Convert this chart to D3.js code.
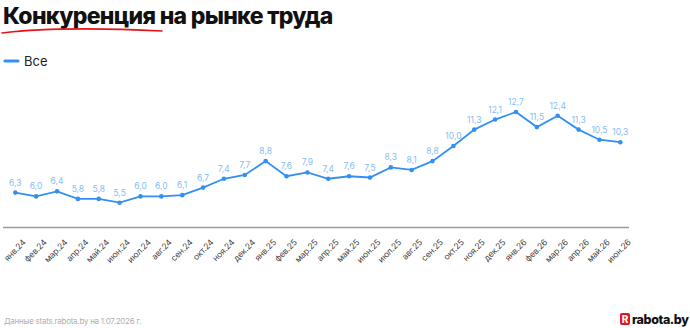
<!DOCTYPE html>
<html><head><meta charset="utf-8">
<script src="https://cdn.jsdelivr.net/npm/d3@7"></script>
<style>body{margin:0;background:#fff;}svg{display:block;font-family:Inter,"Noto Sans",sans-serif;}</style>
</head><body>
<svg id="c" width="690" height="328"></svg>
<script>
const categories = ["янв.24","фев.24","мар.24","апр.24","май.24","июн.24","июл.24","авг.24","сен.24","окт.24","ноя.24","дек.24","янв.25","фев.25","мар.25","апр.25","май.25","июн.25","июл.25","авг.25","сен.25","окт.25","ноя.25","дек.25","янв.26","фев.26","мар.26","апр.26","май.26","июн.26"];
const values = [6.3,6.0,6.4,5.8,5.8,5.5,6.0,6.0,6.1,6.7,7.4,7.7,8.8,7.6,7.9,7.4,7.6,7.5,8.3,8.1,8.8,10.0,11.3,12.1,12.7,11.5,12.4,11.3,10.5,10.3];
const seriesName = "Все";
const title = "Конкуренция на рынке труда";
const source = "Данные stats.rabota.by на 1.07.2026 г.";

const svg = d3.select("#c");
const x = d3.scalePoint().domain(categories).range([15.3, 620.3]);
const y = d3.scaleLinear().domain([3.5, 14]).range([227.9, 95.6]);
const fmt = v => d3.format(".1f")(v).replace(".", ",");

// title
svg.append("text").attr("x", 3).attr("y", 24).attr("font-size", 23).attr("font-weight", 800)
  .attr("letter-spacing", -0.7).attr("fill", "#111").text(title);
svg.append("path").attr("d", "M2,33 Q60,26 162,31").attr("fill", "none").attr("stroke", "#e8121a").attr("stroke-width", 1.6).attr("stroke-linecap", "round");

// legend
svg.append("line").attr("x1", 5).attr("x2", 18).attr("y1", 61).attr("y2", 61).attr("stroke", "#3390f2").attr("stroke-width", 3.2).attr("stroke-linecap", "round");
svg.append("text").attr("x", 24).attr("y", 65.5).attr("font-size", 13).attr("fill", "#222").text(seriesName);

// axis
const xAxis = d3.axisBottom(x).tickSize(0).tickFormat("");
const ax = svg.append("g").attr("transform", "translate(0,227.5)").call(xAxis);
ax.select(".domain").attr("d", "M3,0H629").attr("stroke", "#9a9a9a").attr("stroke-width", 1.5);
svg.append("g").selectAll("text").data(categories).join("text")
  .attr("transform", d => `translate(${x(d) + 11},243) rotate(-45)`)
  .attr("text-anchor", "end").attr("font-size", 8.5).attr("letter-spacing", -0.2).attr("fill", "#444").text(d => d);

// line
const data = categories.map((c, i) => ({c, v: values[i]}));
svg.append("path").datum(data).attr("fill", "none").attr("stroke", "#3390f2").attr("stroke-width", 1.8)
  .attr("d", d3.line().x(d => x(d.c)).y(d => y(d.v)));
svg.append("g").selectAll("circle").data(data).join("circle")
  .attr("cx", d => x(d.c)).attr("cy", d => y(d.v)).attr("r", 2.3).attr("fill", "#3390f2");
svg.append("g").selectAll("text").data(data).join("text")
  .attr("x", d => x(d.c)).attr("y", d => y(d.v) - 7).attr("text-anchor", "middle")
  .attr("font-size", 8.5).attr("fill", "#88bdf3").text(d => fmt(d.v));

// footer
svg.append("text").attr("x", 4).attr("y", 324).attr("font-size", 8).attr("letter-spacing", -0.25).attr("fill", "#b0b0b0").text(source);
svg.append("rect").attr("x", 620).attr("y", 313).attr("width", 10).attr("height", 12).attr("rx", 2).attr("fill", "#e8121a");
svg.append("text").attr("x", 625).attr("y", 323).attr("text-anchor", "middle").attr("font-size", 10).attr("font-weight", 800).attr("fill", "#fff").text("R");
svg.append("text").attr("x", 632).attr("y", 324).attr("font-size", 12.5).attr("font-weight", 800).attr("fill", "#111").attr("letter-spacing", -0.4).text("rabota.by");
</script>
</body></html>
